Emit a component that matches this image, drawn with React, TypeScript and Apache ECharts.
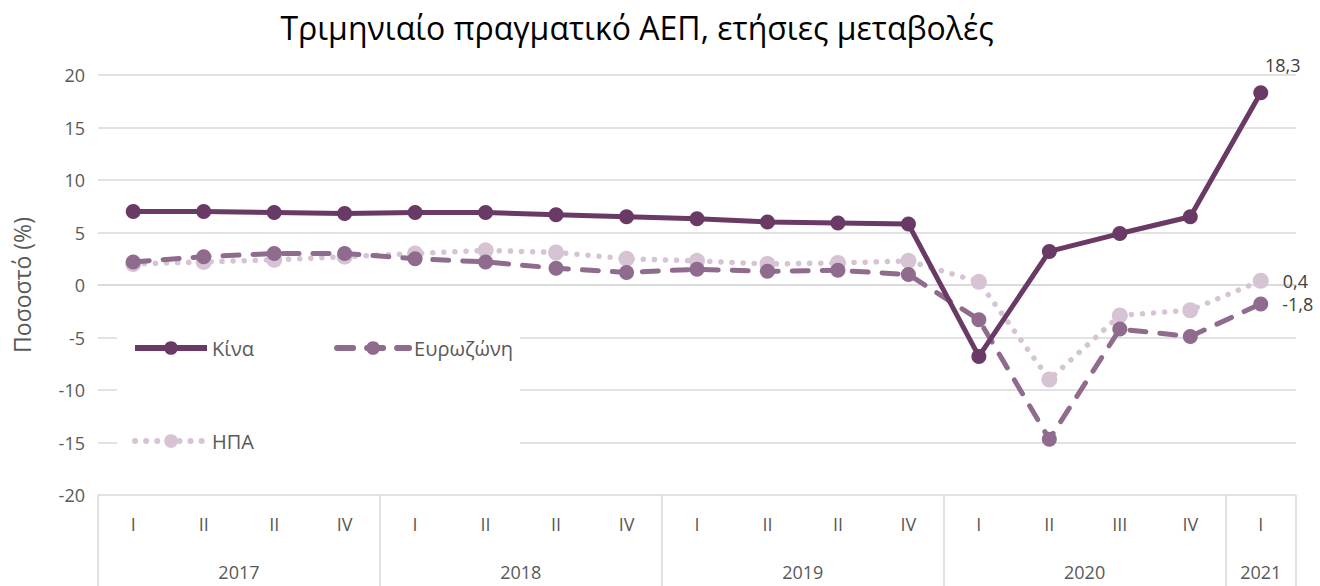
import React, { useEffect, useRef } from "react";
import * as echarts from "echarts";

const quarters = ["I", "II", "II", "IV", "I", "II", "II", "IV", "I", "II", "II", "IV", "I", "II", "III", "IV", "I"];
const years = ["2017", "2018", "2019", "2020", "2021"];
const quartersPerYear = [4, 4, 4, 4, 1];

const china = [7.0, 7.0, 6.9, 6.8, 6.9, 6.9, 6.7, 6.5, 6.3, 6.0, 5.9, 5.8, -6.8, 3.2, 4.9, 6.5, 18.3];
const eurozone = [2.2, 2.7, 3.0, 3.0, 2.5, 2.2, 1.6, 1.2, 1.5, 1.3, 1.4, 1.0, -3.3, -14.7, -4.2, -4.9, -1.8];
const usa = [2.0, 2.2, 2.4, 2.7, 3.0, 3.3, 3.1, 2.5, 2.3, 2.0, 2.1, 2.3, 0.3, -9.0, -2.9, -2.4, 0.4];

const yTicks = { min: -20, max: 20, interval: 5 };

const FONT = "'Open Sans', 'Noto Sans', sans-serif";

export default function App() {
  const ref = useRef<HTMLDivElement>(null);
  useEffect(() => {
    if (!ref.current) return;
    const chart = echarts.init(ref.current, null, { renderer: "svg" });

    const bounds: number[] = [0];
    const centers: number[] = [];
    quartersPerYear.forEach((n) => {
      const start = bounds[bounds.length - 1];
      centers.push(start + n / 2);
      bounds.push(start + n);
    });
    const total = bounds[bounds.length - 1];

    const lastLabel = (pos: string, offset?: number[]) => ({
      show: true,
      position: pos,
      distance: 14,
      offset,
      fontSize: 18,
      fontFamily: FONT,
      color: "#404040",
      formatter: (p: any) => String(p.value).replace(".", ","),
    });

    const mkData = (arr: number[], label: any) =>
      arr.map((v, i) => (i === arr.length - 1 ? { value: v, label } : v));

    chart.setOption({
      animation: false,
      backgroundColor: "#fff",
      textStyle: { fontFamily: FONT },
      title: {
        text: "Τριμηνιαίο πραγματικό ΑΕΠ, ετήσιες μεταβολές",
        left: 632,
        textAlign: "center",
        top: 6,
        textStyle: { fontSize: 32, fontWeight: "normal", color: "#000", fontFamily: FONT },
      },
      grid: { left: 98, right: 24, top: 75, bottom: 91, containLabel: false },
      legend: [
        {
          data: ["Κίνα", "Ευρωζώνη"],
          left: 132,
          top: 338,
          itemWidth: 72,
          itemHeight: 17,
          itemGap: 80,
          padding: 0,
          lineStyle: { width: 6 },
          textStyle: { fontSize: 20, color: "#595959", fontFamily: FONT },
        },
        {
          data: ["ΗΠΑ"],
          left: 132,
          top: 431,
          itemWidth: 72,
          itemHeight: 17,
          padding: 0,
          lineStyle: { width: 6 },
          textStyle: { fontSize: 20, color: "#595959", fontFamily: FONT },
        },
      ],
      graphic: [
        {
          type: "rect",
          z: 1,
          shape: { x: 117, y: 315, width: 403, height: 150 },
          style: { fill: "#fff" },
        },
      ],
      xAxis: [
        {
          type: "category",
          data: quarters,
          boundaryGap: true,
          axisLine: { show: true, lineStyle: { color: "#d9d9d9", width: 1.5 } },
          axisTick: { show: false },
          axisLabel: { margin: 20, fontSize: 18, color: "#595959", fontFamily: FONT, interval: 0 },
          splitLine: { show: false },
        },
        {
          type: "value",
          min: 0,
          max: total,
          position: "bottom",
          axisLine: { show: false },
          splitLine: { show: false },
          axisTick: {
            show: true,
            length: 95,
            customValues: bounds,
            lineStyle: { color: "#d9d9d9", width: 1.5 },
          },
          axisLabel: {
            show: true,
            customValues: centers,
            margin: 68,
            fontSize: 18,
            color: "#595959",
            fontFamily: FONT,
            formatter: (v: number) => {
              const i = centers.findIndex((c) => Math.abs(c - v) < 1e-6);
              return i >= 0 ? years[i] : "";
            },
          },
        },
      ],
      yAxis: {
        type: "value",
        min: yTicks.min,
        max: yTicks.max,
        interval: yTicks.interval,
        name: "Ποσοστό (%)",
        nameLocation: "middle",
        nameGap: 65,
        nameTextStyle: { fontSize: 23, color: "#595959", fontFamily: FONT },
        axisLine: { show: false },
        axisTick: { show: false },
        axisLabel: { margin: 13, fontSize: 18, color: "#595959", fontFamily: FONT },
        splitLine: { show: true, lineStyle: { color: "#d9d9d9", width: 1.5 } },
        z: 0,
      },
      series: [
        {
          name: "Κίνα",
          type: "line",
          data: mkData(china, lastLabel("top", [22, 3])),
          symbol: "circle",
          symbolSize: 15,
          lineStyle: { color: "#6a3a66", width: 5 },
          itemStyle: { color: "#6a3a66" },
          z: 5,
        },
        {
          name: "Ευρωζώνη",
          type: "line",
          data: mkData(eurozone, lastLabel("right")),
          symbol: "circle",
          symbolSize: 15,
          lineStyle: { color: "#8f6b8d", width: 5, type: [16, 14], cap: "round" },
          itemStyle: { color: "#8f6b8d" },
          z: 4,
        },
        {
          name: "ΗΠΑ",
          type: "line",
          data: mkData(usa, lastLabel("right")),
          symbol: "circle",
          symbolSize: 16,
          lineStyle: { color: "#d6c4d5", width: 5.5, type: [0.1, 11], cap: "round" },
          itemStyle: { color: "#d6c4d5" },
          z: 3,
        },
      ],
    });
    return () => chart.dispose();
  }, []);
  return <div ref={ref} style={{ position: "fixed", left: 0, top: 0, width: 1320, height: 586 }} />;
}
